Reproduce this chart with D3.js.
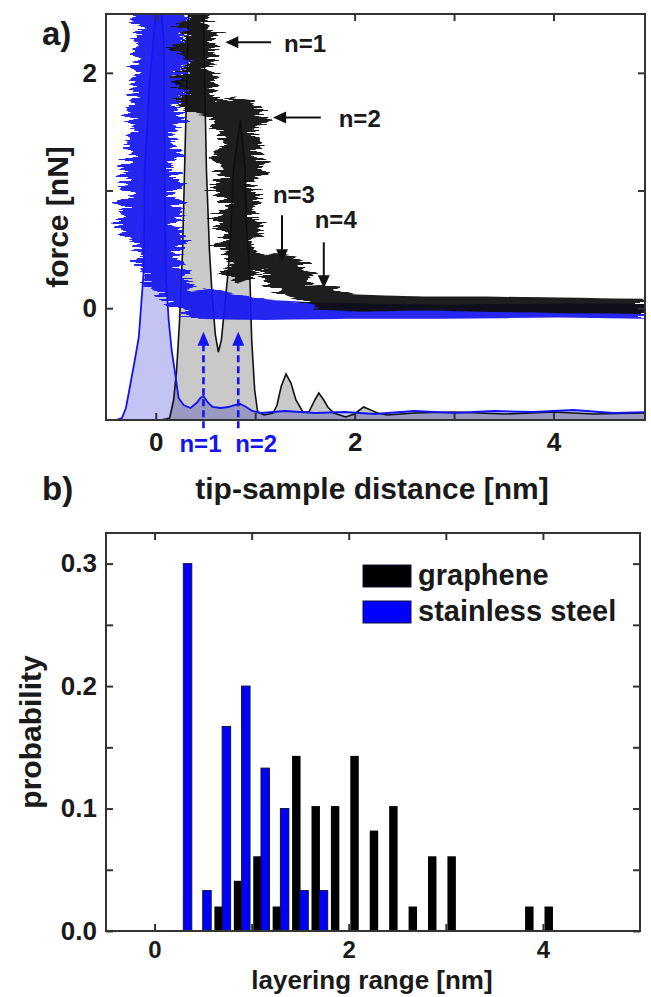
<!DOCTYPE html>
<html>
<head>
<meta charset="utf-8">
<script src="https://cdn.jsdelivr.net/npm/d3@7"></script>
<style>
body { margin: 0; background: #fff; }
text { font-family: "Liberation Sans", Arial, sans-serif; font-weight: bold; fill: #1a1a1a; }
</style>
</head>
<body>
<svg id="chart" width="651" height="997"></svg>
<script>
// ---------- panel a : force curves ----------
var distTicks = [0, 1, 2, 3, 4];
var forceTicks = [0, 1, 2];

// noisy approach curve on graphene, outline of the band [distance nm, force nN]
var grapheneBand = [
	[0.30, 2.50], [0.24, 2.41], [0.31, 2.32], [0.21, 2.20], [0.30, 2.09], [0.25, 1.98],
	[0.17, 1.92], [0.29, 1.84], [0.23, 1.75], [0.31, 1.69], [0.35, 1.66], [0.57, 1.63],
	[0.59, 1.51], [0.67, 1.43], [0.55, 1.26], [0.65, 1.13], [0.57, 1.00], [0.67, 0.88],
	[0.60, 0.75], [0.69, 0.62], [0.63, 0.49], [0.73, 0.39], [0.71, 0.28], [0.77, 0.21],
	[0.95, 0.24], [1.08, 0.34], [1.14, 0.20], [1.24, 0.13], [1.36, 0.09], [1.51, 0.04],
	[1.66, -0.01], [2.06, -0.03], [2.66, -0.02], [3.27, -0.03], [4.07, -0.04], [4.93, -0.05],
	[4.93, 0.08], [4.47, 0.085], [4.07, 0.09], [3.27, 0.10], [2.66, 0.10], [2.26, 0.11],
	[1.96, 0.12], [1.86, 0.15], [1.81, 0.18], [1.68, 0.20], [1.56, 0.19], [1.50, 0.22],
	[1.58, 0.28], [1.46, 0.34], [1.52, 0.39], [1.38, 0.44], [1.21, 0.47], [1.11, 0.45],
	[1.01, 0.49], [0.95, 0.58], [1.08, 0.66], [0.97, 0.79], [1.06, 0.92], [0.95, 1.05],
	[1.12, 1.17], [1.01, 1.30], [1.08, 1.43], [0.95, 1.51], [1.12, 1.60], [1.04, 1.69],
	[0.95, 1.77], [0.75, 1.80], [0.64, 1.75], [0.58, 1.86], [0.63, 1.94], [0.53, 2.03],
	[0.63, 2.11], [0.55, 2.21], [0.61, 2.32], [0.51, 2.41], [0.57, 2.50]
];

// noisy approach curve on stainless steel
var steelBand = [
	[-0.23, 2.50], [-0.15, 2.41], [-0.21, 2.28], [-0.25, 2.15], [-0.18, 2.07], [-0.27, 1.94],
	[-0.22, 1.81], [-0.29, 1.69], [-0.21, 1.56], [-0.31, 1.43], [-0.25, 1.30], [-0.33, 1.17],
	[-0.27, 1.00], [-0.39, 0.71], [-0.25, 0.58], [-0.17, 0.45], [-0.15, 0.32], [-0.10, 0.20],
	[0.05, 0.11], [0.17, 0.03], [0.35, -0.09], [1.06, -0.10], [1.96, -0.09], [2.96, -0.09],
	[3.97, -0.08], [4.93, -0.09], [4.93, 0.04], [3.97, 0.04], [2.96, 0.03], [1.96, 0.04],
	[1.46, 0.05], [1.06, 0.08], [0.75, 0.13], [0.58, 0.17], [0.35, 0.14], [0.35, 0.22],
	[0.28, 0.32], [0.23, 0.45], [0.28, 0.58], [0.21, 0.71], [0.25, 0.83], [0.19, 0.96],
	[0.23, 1.09], [0.17, 1.22], [0.25, 1.34], [0.19, 1.47], [0.27, 1.60], [0.22, 1.73],
	[0.29, 1.86], [0.23, 1.98], [0.29, 2.11], [0.25, 2.24], [0.29, 2.37], [0.23, 2.50]
];

// distance histograms (arbitrary counts) [distance nm, counts]
var grapheneHist = [
	[0.05, 0], [0.10, 0.01], [0.14, 0.02], [0.18, 0.2], [0.21, 0.5], [0.24, 1.0], [0.27, 1.7],
	[0.29, 2.5], [0.31, 3.3], [0.33, 4.06], [0.40, 4.7], [0.48, 4.06], [0.51, 2.5], [0.54, 1.7],
	[0.57, 1.2], [0.60, 0.85], [0.63, 0.68], [0.66, 0.8], [0.69, 1.1], [0.73, 1.5], [0.76, 2.0],
	[0.78, 2.5], [0.85, 3.0], [0.90, 2.5], [0.91, 2.0], [0.945, 1.5], [0.965, 0.8], [0.995, 0.3],
	[1.025, 0.08], [1.09, 0.05], [1.18, 0.07], [1.22, 0.15], [1.26, 0.33], [1.31, 0.46],
	[1.36, 0.37], [1.41, 0.2], [1.48, 0.08], [1.54, 0.08], [1.60, 0.2], [1.64, 0.27], [1.69, 0.2],
	[1.73, 0.13], [1.79, 0.07], [1.91, 0.03], [2.00, 0.06], [2.09, 0.13], [2.16, 0.1],
	[2.23, 0.07], [2.33, 0.05], [2.6, 0.07], [3.0, 0.08], [3.5, 0.06], [4.0, 0.08], [4.4, 0.06],
	[4.93, 0.07]
];
var steelHist = [
	[-0.45, 0], [-0.40, 0.0], [-0.34, 0.02], [-0.30, 0.12], [-0.26, 0.33], [-0.21, 0.6],
	[-0.17, 0.83], [-0.12, 1.5], [-0.11, 2.5], [-0.06, 3.4], [0.00, 4.06], [0.04, 4.3],
	[0.08, 3.8], [0.09, 2.5], [0.10, 1.5], [0.13, 1.0], [0.16, 0.7], [0.19, 0.5], [0.23, 0.22],
	[0.28, 0.15], [0.35, 0.12], [0.41, 0.17], [0.45, 0.22], [0.48, 0.24], [0.52, 0.18],
	[0.57, 0.13], [0.65, 0.12], [0.73, 0.13], [0.80, 0.15], [0.85, 0.16], [0.91, 0.13],
	[0.97, 0.09], [1.06, 0.07], [1.3, 0.09], [1.6, 0.07], [1.9, 0.08], [2.2, 0.06], [2.6, 0.09],
	[3.0, 0.07], [3.4, 0.09], [3.8, 0.08], [4.2, 0.1], [4.6, 0.07], [4.93, 0.08]
];

// layer markers
var blackArrows = [
	{ label: "n=1", dir: "h", d0: 1.16, d1: 0.70, f0: 2.26, f1: 2.26, tx: 1.29, tf: 2.18 },
	{ label: "n=2", dir: "h", d0: 1.66, d1: 1.18, f0: 1.62, f1: 1.62, tx: 1.84, tf: 1.54 },
	{ label: "n=3", dir: "v", d0: 1.27, d1: 1.27, f0: 0.79, f1: 0.39, tx: 1.39, tf: 0.89 },
	{ label: "n=4", dir: "v", d0: 1.69, d1: 1.69, f0: 0.56, f1: 0.17, tx: 1.81, tf: 0.68 }
];
var blueArrows = [
	{ label: "n=1", d: 0.48, f0: -1.02, f1: -0.20, tx: 0.45 },
	{ label: "n=2", d: 0.83, f0: -1.02, f1: -0.20, tx: 1.01 }
];

// ---------- panel b : layering range histogram ----------
var probTicks = [0, 0.05, 0.1, 0.15, 0.2, 0.25, 0.3];
var rangeTicks = [0, 1, 2, 3, 4];
var steelX = [0.34, 0.54, 0.74, 0.94, 1.14, 1.34, 1.54, 1.74];
var steelP = [0.300, 0.033, 0.167, 0.200, 0.133, 0.100, 0.033, 0.033];
var grapheneX = [0.66, 0.86, 1.06, 1.26, 1.46, 1.66, 1.86, 2.06, 2.26, 2.46, 2.66, 2.86, 3.06, 3.86, 4.06];
var grapheneP = [0.020, 0.041, 0.061, 0.020, 0.143, 0.102, 0.102, 0.143, 0.082, 0.102, 0.020, 0.061, 0.061, 0.020, 0.020];
var legendItems = ["graphene", "stainless steel"];

var BLUE = "#1414f0";
var svg = d3.select("#chart");
var defs = svg.append("defs");

defs.append("clipPath").attr("id", "clipA")
	.append("rect").attr("x", 106).attr("y", 14).attr("width", 539).attr("height", 406);

// horizontal jitter so the noisy force traces look scribbled
var scribble = defs.append("filter").attr("id", "scribble")
	.attr("x", "-0.15").attr("y", "-0.05").attr("width", "1.3").attr("height", "1.1");
scribble.append("feTurbulence").attr("type", "fractalNoise")
	.attr("baseFrequency", "0.02 0.4").attr("numOctaves", 2).attr("seed", 4).attr("result", "t");
scribble.append("feColorMatrix").attr("in", "t").attr("type", "matrix")
	.attr("values", "1 0 0 0 0  0 0 0 0 0.5  0 0 1 0 0  0 0 0 0 1").attr("result", "m");
scribble.append("feDisplacementMap").attr("in", "SourceGraphic").attr("in2", "m")
	.attr("scale", 36).attr("xChannelSelector", "R").attr("yChannelSelector", "G");

// ======== panel a ========
var xA = d3.scaleLinear().domain([-0.5, 4.92]).range([106, 645]);
var yA = d3.scaleLinear().domain([-0.95, 2.5]).range([420, 14]);
var hA = d3.scaleLinear().domain([0, 4.06]).range([420, 14]);

var gA = svg.append("g");
var plotA = gA.append("g").attr("clip-path", "url(#clipA)");

var histArea = d3.area()
	.x(function(d) { return xA(d[0]); })
	.y0(hA(0))
	.y1(function(d) { return hA(d[1]); });
var histLine = d3.line()
	.x(function(d) { return xA(d[0]); })
	.y(function(d) { return hA(d[1]); });

plotA.append("path").datum(grapheneHist).attr("d", histArea).attr("fill", "#c9c9c9");
plotA.append("path").datum(steelHist).attr("d", histArea)
	.attr("fill", "#c4c4f4").style("mix-blend-mode", "multiply");
plotA.append("path").datum(grapheneHist).attr("d", histLine)
	.attr("fill", "none").attr("stroke", "#111").attr("stroke-width", 1.6);
plotA.append("path").datum(steelHist).attr("d", histLine)
	.attr("fill", "none").attr("stroke", BLUE).attr("stroke-width", 1.8);

var bandLine = d3.line()
	.x(function(d) { return xA(d[0]); })
	.y(function(d) { return yA(d[1]); });

var bands = plotA.append("g");
[[steelBand, BLUE], [grapheneBand, "#111"]].forEach(function(b) {
	bands.append("path").attr("d", bandLine(b[0]) + "Z")
		.attr("fill", b[1]).attr("opacity", 0.93)
		.attr("filter", "url(#scribble)");
});

// frame
gA.append("rect").attr("x", 106).attr("y", 14).attr("width", 539).attr("height", 406)
	.attr("fill", "none").attr("stroke", "#333").attr("stroke-width", 2);

function styleAxis(sel, size) {
	sel.select(".domain").remove();
	sel.attr("font-size", size);
	sel.selectAll("line").attr("stroke", "#333").attr("stroke-width", 2);
}

gA.append("g").attr("transform", "translate(0,420)")
	.call(d3.axisBottom(xA).tickValues(distTicks).tickSizeInner(-7).tickSizeOuter(0).tickPadding(13)
		.tickFormat(function(d) { return d % 2 === 0 ? d : ""; }))
	.call(styleAxis, 26);
gA.append("g").attr("transform", "translate(0,14)")
	.call(d3.axisTop(xA).tickValues(distTicks).tickSizeInner(-7).tickSizeOuter(0).tickFormat(""))
	.call(styleAxis, 26);
gA.append("g").attr("transform", "translate(106,0)")
	.call(d3.axisLeft(yA).tickValues(forceTicks).tickSizeInner(-7).tickSizeOuter(0).tickPadding(9)
		.tickFormat(function(d) { return d === 1 ? "" : d; }))
	.call(styleAxis, 26);
gA.append("g").attr("transform", "translate(645,0)")
	.call(d3.axisRight(yA).tickValues(forceTicks).tickSizeInner(-7).tickSizeOuter(0).tickFormat(""))
	.call(styleAxis, 26);

// black arrows
blackArrows.forEach(function(a) {
	var x0 = xA(a.d0), y0 = yA(a.f0), x1 = xA(a.d1), y1 = yA(a.f1);
	var head;
	if (a.dir === "h") {
		head = [[x1, y1], [x1 + 13, y1 - 6], [x1 + 13, y1 + 6]];
		gA.append("line").attr("x1", x0).attr("y1", y0).attr("x2", x1 + 10).attr("y2", y1)
			.attr("stroke", "#111").attr("stroke-width", 2);
	} else {
		head = [[x1, y1], [x1 - 6, y1 - 13], [x1 + 6, y1 - 13]];
		gA.append("line").attr("x1", x0).attr("y1", y0).attr("x2", x1).attr("y2", y1 - 10)
			.attr("stroke", "#111").attr("stroke-width", 2);
	}
	gA.append("path").attr("d", "M" + head.join("L") + "Z").attr("fill", "#111");
	gA.append("text").attr("x", xA(a.tx)).attr("y", yA(a.tf))
		.attr("text-anchor", a.dir === "h" ? "start" : "middle")
		.attr("font-size", 24).text(a.label);
});

// blue dashed arrows
blueArrows.forEach(function(a) {
	var x = xA(a.d), y0 = yA(a.f0), y1 = yA(a.f1);
	gA.append("line").attr("x1", x).attr("x2", x).attr("y1", y0).attr("y2", y1 + 10)
		.attr("stroke", BLUE).attr("stroke-width", 2.6).attr("stroke-dasharray", "7,4");
	gA.append("path").attr("d", "M" + [[x, y1], [x - 6, y1 + 14], [x + 6, y1 + 14]].join("L") + "Z")
		.attr("fill", BLUE);
	gA.append("text").attr("x", xA(a.tx)).attr("y", 452).attr("text-anchor", "middle")
		.attr("font-size", 24).style("fill", BLUE).text(a.label);
});

gA.append("text").attr("x", 42).attr("y", 45).attr("font-size", 33).text("a)");
gA.append("text").attr("x", 372).attr("y", 499).attr("text-anchor", "middle")
	.attr("font-size", 30).text("tip-sample distance [nm]");
gA.append("text").attr("transform", "translate(68,217) rotate(-90)").attr("text-anchor", "middle")
	.attr("font-size", 30).text("force [nN]");

// ======== panel b ========
var xB = d3.scaleLinear().domain([-0.5, 5]).range([106, 640]);
var yB = d3.scaleLinear().domain([0, 0.325]).range([931, 533]);
var barW = xB(0.087) - xB(0);

var gB = svg.append("g");

gB.selectAll(".bar-g").data(grapheneX).enter().append("rect")
	.attr("class", "bar-g")
	.attr("x", function(d) { return xB(d) - barW / 2; })
	.attr("width", barW)
	.attr("y", function(d, i) { return yB(grapheneP[i]); })
	.attr("height", function(d, i) { return yB(0) - yB(grapheneP[i]); })
	.attr("fill", "#000");

gB.selectAll(".bar-s").data(steelX).enter().append("rect")
	.attr("class", "bar-s")
	.attr("x", function(d) { return xB(d) - barW / 2; })
	.attr("width", barW)
	.attr("y", function(d, i) { return yB(steelP[i]); })
	.attr("height", function(d, i) { return yB(0) - yB(steelP[i]); })
	.attr("fill", "#0000ff").attr("stroke", "#101040").attr("stroke-width", 1);

gB.append("rect").attr("x", 106).attr("y", 533).attr("width", 534).attr("height", 398)
	.attr("fill", "none").attr("stroke", "#333").attr("stroke-width", 2);

gB.append("g").attr("transform", "translate(0,931)")
	.call(d3.axisBottom(xB).tickValues(rangeTicks).tickSizeInner(-7).tickSizeOuter(0).tickPadding(10)
		.tickFormat(function(d) { return d % 2 === 0 ? d : ""; }))
	.call(styleAxis, 24);
gB.append("g").attr("transform", "translate(0,533)")
	.call(d3.axisTop(xB).tickValues(rangeTicks).tickSizeInner(-7).tickSizeOuter(0).tickFormat(""))
	.call(styleAxis, 24);
gB.append("g").attr("transform", "translate(106,0)")
	.call(d3.axisLeft(yB).tickValues(probTicks).tickSizeInner(-7).tickSizeOuter(0).tickPadding(9)
		.tickFormat(function(d) { return Math.round(d * 100) % 10 === 0 ? d3.format(".1f")(d) : ""; }))
	.call(styleAxis, 26);
gB.append("g").attr("transform", "translate(640,0)")
	.call(d3.axisRight(yB).tickValues(probTicks).tickSizeInner(-7).tickSizeOuter(0).tickFormat(""))
	.call(styleAxis, 26);

// legend
var legend = gB.append("g").attr("transform", "translate(363,565)");
legendItems.forEach(function(name, i) {
	legend.append("rect").attr("x", 0).attr("y", i * 36).attr("width", 48).attr("height", 22)
		.attr("fill", i === 0 ? "#000" : "#0000ff").attr("stroke", "#101040").attr("stroke-width", 1);
	legend.append("text").attr("x", 55).attr("y", i * 36 + 20).attr("font-size", 29).text(name);
});

gB.append("text").attr("x", 42).attr("y", 500).attr("font-size", 33).text("b)");
gB.append("text").attr("x", 372).attr("y", 989).attr("text-anchor", "middle")
	.attr("font-size", 26).text("layering range [nm]");
gB.append("text").attr("transform", "translate(41,732) rotate(-90)").attr("text-anchor", "middle")
	.attr("font-size", 30).text("probability");
</script>
</body>
</html>
